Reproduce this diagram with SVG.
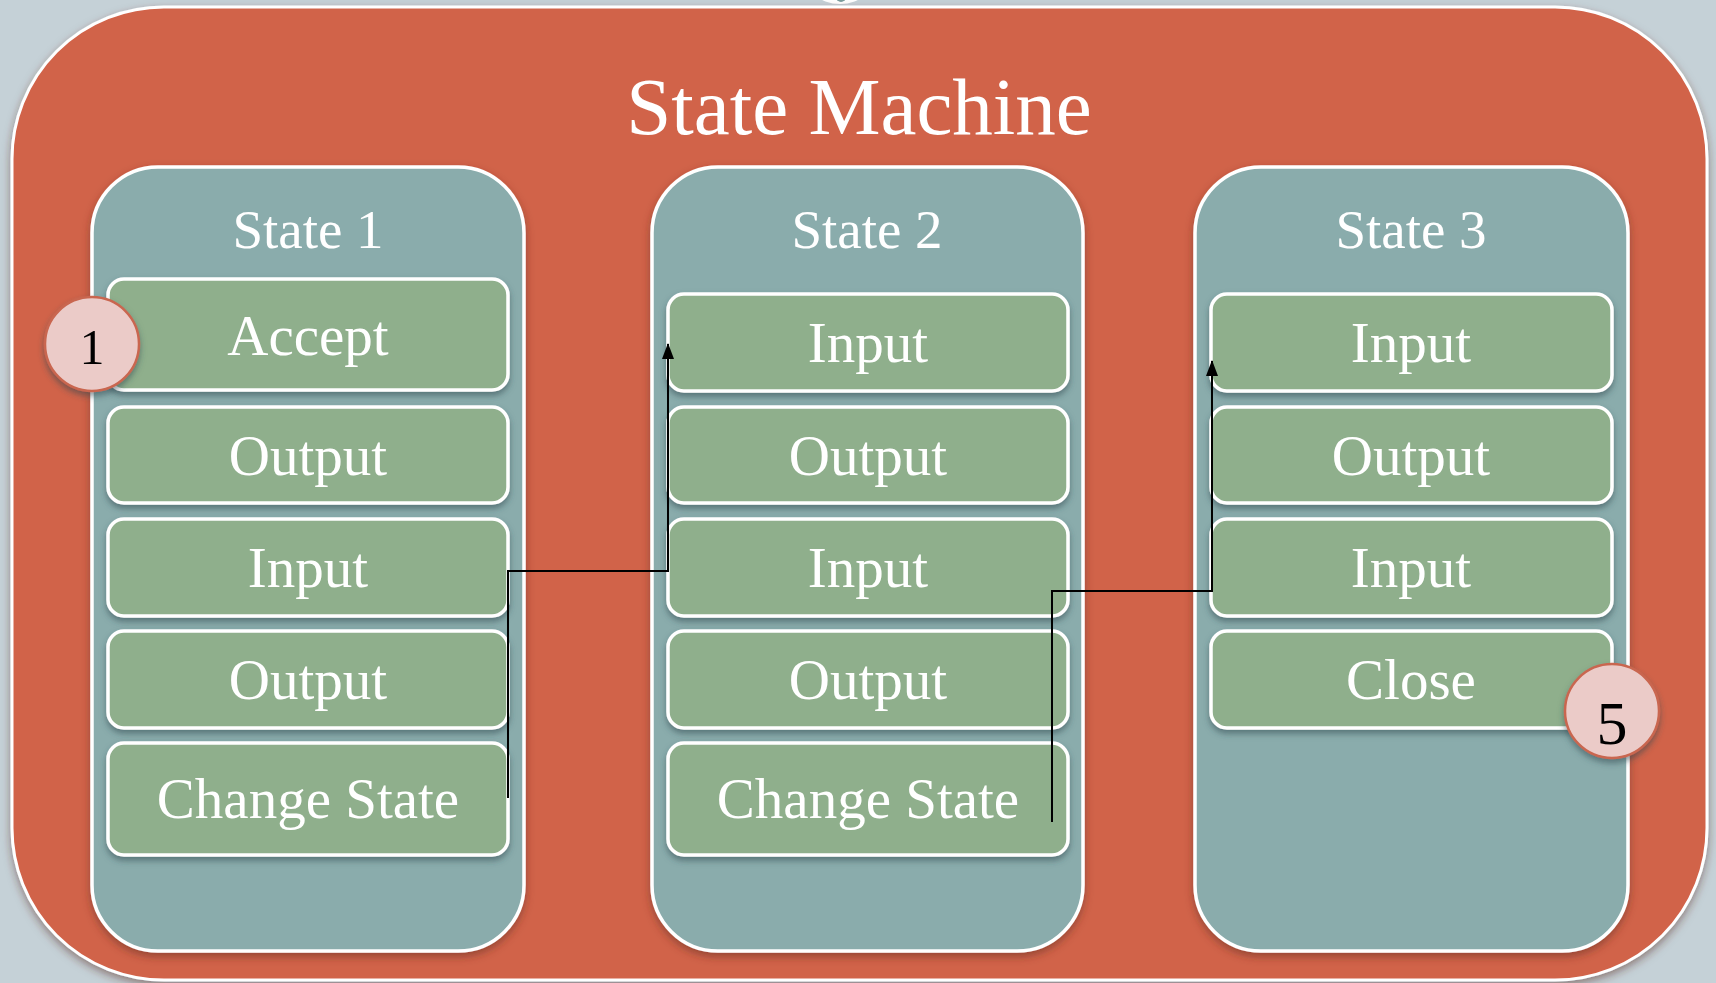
<svg xmlns="http://www.w3.org/2000/svg" width="1716" height="983" viewBox="0 0 1716 983">
<style>
.bg{fill:#C5D1D7}
.outer{fill:#D1634A;stroke:#FFFFFF;stroke-width:3}
.state{fill:#8AACAC;stroke:#FFFFFF;stroke-width:3.5}
.box{fill:#8FAF8C;stroke:#FFFFFF;stroke-width:3.5}
.badge{fill:#EBCBC8;stroke:#C9664F;stroke-width:2.5}
.title{font-family:"Liberation Serif","DejaVu Serif",serif;fill:#FFFFFF;text-anchor:middle}
.lbl{font-family:"Liberation Serif","DejaVu Serif",serif;font-size:57px;fill:#FFFFFF;text-anchor:middle}
.num{font-family:"Liberation Serif","DejaVu Serif",serif;fill:#000000;text-anchor:middle}
.conn{fill:none;stroke:#000000;stroke-width:2}
</style>
<defs>
<filter id="sh" x="-10%" y="-10%" width="120%" height="130%">
<feDropShadow dx="0" dy="4" stdDeviation="3" flood-color="#2E4A50" flood-opacity="0.55"/>
</filter>
<filter id="shs" x="-10%" y="-10%" width="120%" height="120%">
<feDropShadow dx="0" dy="4" stdDeviation="4" flood-color="#5A2A1E" flood-opacity="0.5"/>
</filter>
<marker id="arr" viewBox="0 0 16 12" refX="15" refY="6" markerWidth="16" markerHeight="12" markerUnits="userSpaceOnUse" orient="auto">
<path d="M0,0 L16,6 L0,12 Z" fill="#000000"/>
</marker>
</defs>
<rect class="bg" x="0" y="0" width="1716" height="983"/>
<g id="top-partial">
<ellipse cx="840" cy="-30" rx="38" ry="34" fill="#FFFFFF"/>
<ellipse cx="841" cy="-22" rx="10" ry="24" fill="#7A9C9C"/>
</g>
<g id="state-machine">
<rect class="outer" x="12" y="7" width="1695" height="973" rx="152" ry="152" filter="url(#shs)"/>
<text class="title" x="859" y="134" font-size="81">State Machine</text>
</g>
<g id="state1">
<rect class="state" x="92" y="167" width="432" height="784" rx="66" ry="66" filter="url(#shs)"/>
<text class="title" x="308" y="248" font-size="55">State 1</text>
</g>
<g id="state2">
<rect class="state" x="652" y="167" width="431" height="784" rx="66" ry="66" filter="url(#shs)"/>
<text class="title" x="867" y="248" font-size="55">State 2</text>
</g>
<g id="state3">
<rect class="state" x="1195" y="167" width="433" height="784" rx="66" ry="66" filter="url(#shs)"/>
<text class="title" x="1411" y="248" font-size="55">State 3</text>
</g>
<g id="s1-accept"><rect class="box" x="108" y="279" width="400" height="111" rx="16" filter="url(#sh)"/><text class="lbl" x="308" y="355">Accept</text></g>
<g id="s1-output1"><rect class="box" x="108" y="407" width="400" height="96" rx="16" filter="url(#sh)"/><text class="lbl" x="308" y="475">Output</text></g>
<g id="s1-input"><rect class="box" x="108" y="519" width="400" height="97" rx="16" filter="url(#sh)"/><text class="lbl" x="308" y="587">Input</text></g>
<g id="s1-output2"><rect class="box" x="108" y="631" width="400" height="97" rx="16" filter="url(#sh)"/><text class="lbl" x="308" y="699">Output</text></g>
<g id="s1-change"><rect class="box" x="108" y="743" width="400" height="112" rx="16" filter="url(#sh)"/><text class="lbl" x="308" y="818">Change State</text></g>
<g id="s2-input1"><rect class="box" x="668" y="294" width="400" height="97" rx="16" filter="url(#sh)"/><text class="lbl" x="868" y="362">Input</text></g>
<g id="s2-output1"><rect class="box" x="668" y="407" width="400" height="96" rx="16" filter="url(#sh)"/><text class="lbl" x="868" y="475">Output</text></g>
<g id="s2-input2"><rect class="box" x="668" y="519" width="400" height="97" rx="16" filter="url(#sh)"/><text class="lbl" x="868" y="587">Input</text></g>
<g id="s2-output2"><rect class="box" x="668" y="631" width="400" height="97" rx="16" filter="url(#sh)"/><text class="lbl" x="868" y="699">Output</text></g>
<g id="s2-change"><rect class="box" x="668" y="743" width="400" height="112" rx="16" filter="url(#sh)"/><text class="lbl" x="868" y="818">Change State</text></g>
<g id="s3-input1"><rect class="box" x="1211" y="294" width="401" height="97" rx="16" filter="url(#sh)"/><text class="lbl" x="1411" y="362">Input</text></g>
<g id="s3-output"><rect class="box" x="1211" y="407" width="401" height="96" rx="16" filter="url(#sh)"/><text class="lbl" x="1411" y="475">Output</text></g>
<g id="s3-input2"><rect class="box" x="1211" y="519" width="401" height="97" rx="16" filter="url(#sh)"/><text class="lbl" x="1411" y="587">Input</text></g>
<g id="s3-close"><rect class="box" x="1211" y="631" width="401" height="97" rx="16" filter="url(#sh)"/><text class="lbl" x="1411" y="699">Close</text></g>
<g id="connectors">
<path class="conn" d="M508 798 L508 571 L668 571 L668 344" marker-end="url(#arr)"/>
<path class="conn" d="M1052 822 L1052 591 L1212 591 L1212 361" marker-end="url(#arr)"/>
</g>
<g id="badge1"><circle class="badge" cx="92" cy="344" r="47" filter="url(#sh)"/><text class="num" x="92" y="364" font-size="50">1</text></g>
<g id="badge5"><circle class="badge" cx="1612" cy="711" r="47" filter="url(#sh)"/><text class="num" x="1612" y="744" font-size="62">5</text></g>
</svg>
